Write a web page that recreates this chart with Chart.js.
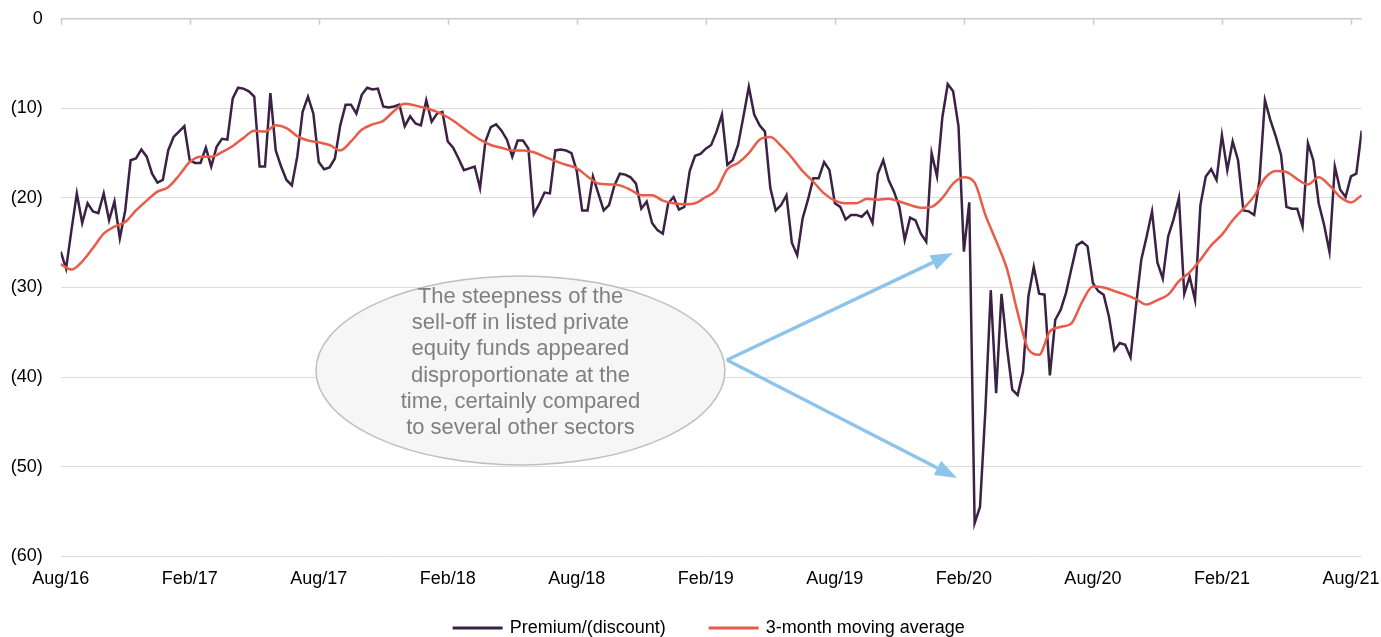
<!DOCTYPE html>
<html>
<head>
<meta charset="utf-8">
<title>Premium/(discount)</title>
<script src="https://cdn.jsdelivr.net/npm/chart.js@4.4.0/dist/chart.umd.min.js"></script>
<style>
  html, body { margin: 0; padding: 0; background: #fff; }
  #wrap { width: 1381px; height: 637px; position: relative; }
</style>
</head>
<body>
<div id="wrap"><canvas id="chart"></canvas></div>
<script>
// x positions are months since Aug/16
const TICK_LABELS = ['Aug/16', 'Feb/17', 'Aug/17', 'Feb/18', 'Aug/18', 'Feb/19',
                     'Aug/19', 'Feb/20', 'Aug/20', 'Feb/21', 'Aug/21'];
const TICK_STEP = 6;
const X_MAX = 60.5;

// premium/(discount), one reading per quarter month
const PREMIUM_STEP = 0.25;
const PREMIUM = [
  -26.0, -27.9, -23.6, -19.5, -22.8, -20.6, -21.5, -21.7, -19.5, -22.5,
  -20.4, -24.5, -21.4, -15.8, -15.6, -14.6, -15.4, -17.3, -18.3, -18.0,
  -14.7, -13.2, -12.6, -12.0, -15.8, -16.1, -16.1, -14.4, -16.5, -14.3,
  -13.4, -13.5, -8.9, -7.7, -7.8, -8.1, -8.7, -16.5, -16.5, -8.3,
  -14.7, -16.5, -18.0, -18.6, -15.4, -10.4, -8.7, -10.6, -16.0, -16.8,
  -16.6, -15.6, -11.9, -9.6, -9.6, -10.6, -8.5, -7.7, -7.9, -7.8,
  -9.8, -9.9, -9.8, -9.6, -12.0, -10.9, -11.7, -11.9, -9.1, -11.5,
  -10.6, -10.4, -13.7, -14.4, -15.6, -16.9, -16.7, -16.5, -18.9, -13.7,
  -12.1, -11.8, -12.5, -13.5, -15.4, -13.6, -13.6, -14.5, -21.8, -20.7,
  -19.4, -19.5, -14.7, -14.6, -14.7, -15.0, -17.0, -21.4, -21.4, -17.6,
  -19.5, -21.4, -20.8, -18.6, -17.3, -17.4, -17.7, -18.4, -21.2, -20.4,
  -22.8, -23.6, -24.0, -20.6, -19.9, -21.3, -21.0, -17.0, -15.3, -15.1,
  -14.5, -14.1, -12.6, -10.7, -16.3, -15.8, -14.1, -10.9, -7.6, -10.7,
  -11.9, -12.6, -18.9, -21.4, -20.8, -19.7, -25.0, -26.4, -22.3, -20.2,
  -17.8, -17.8, -16.0, -16.9, -20.6, -21.0, -22.4, -21.9, -21.9, -22.1,
  -21.5, -22.8, -17.3, -15.8, -18.0, -19.3, -21.0, -24.7, -22.2, -22.5,
  -24.0, -24.9, -15.0, -17.6, -11.0, -7.3, -8.1, -12.0, -26.0, -20.5,
  -56.3, -54.5, -43.7, -30.3, -41.8, -30.7, -36.6, -41.4, -42.0, -39.4,
  -31.0, -27.7, -30.7, -30.8, -39.8, -33.6, -32.5, -30.6, -27.9, -25.3,
  -24.9, -25.4, -29.5, -30.4, -30.8, -33.3, -37.0, -36.2, -36.4, -37.8,
  -32.1, -26.9, -24.3, -21.5, -27.2, -29.0, -24.3, -22.4, -20.0, -30.7,
  -28.8, -31.4, -20.8, -17.6, -16.8, -18.0, -13.0, -16.9, -13.7, -15.8,
  -21.4, -21.5, -21.9, -18.0, -9.1, -11.3, -13.1, -15.2, -21.0, -21.2,
  -21.2, -23.2, -13.9, -15.8, -20.6, -23.0, -26.0, -16.5, -19.1, -19.9,
  -17.6, -17.3, -12.5
];

// 3-month moving average, one reading per half month
const AVG_STEP = 0.5;
const MOVING_AVG = [
  -27.4, -28.0, -27.1, -25.6, -24.0, -23.2, -22.7, -21.4, -20.3, -19.3,
  -18.8, -17.5, -16.0, -15.4, -15.4, -14.9, -14.2, -13.3, -12.5, -12.6,
  -11.9, -12.2, -13.1, -13.6, -13.8, -14.1, -14.7, -13.7, -12.4, -11.8,
  -11.4, -10.3, -9.5, -9.7, -10.0, -10.4, -11.0, -11.8, -12.7, -13.5,
  -14.1, -14.4, -14.7, -14.7, -14.9, -15.4, -15.9, -16.3, -16.7, -17.6,
  -18.4, -18.5, -18.6, -19.1, -19.7, -19.7, -20.3, -20.6, -20.7, -20.6,
  -19.9, -19.1, -16.8, -16.1, -15.0, -13.5, -13.2, -14.2, -15.5, -17.0,
  -18.2, -19.5, -20.3, -20.6, -20.6, -20.1, -20.2, -20.1, -20.4, -20.8,
  -21.1, -21.0, -20.0, -18.4, -17.7, -18.3, -21.9, -24.8, -27.9, -32.8,
  -36.9, -37.5, -34.9, -34.4, -34.0, -31.6, -29.9, -30.0, -30.4, -30.8,
  -31.3, -31.9, -31.4, -30.8, -29.3, -28.3, -26.9, -25.3, -24.1, -22.5,
  -21.2, -19.8, -17.8, -17.0, -17.1, -17.9, -18.5, -17.7, -18.6, -19.9,
  -20.5, -19.7
];

// callout, placed in axis units
const NOTE_LINES = ['The steepness of the', 'sell-off in listed private', 'equity funds appeared',
                    'disproportionate at the', 'time, certainly compared', 'to several other sectors'];
const NOTE_CENTER = { x: 21.38, y: -39.26 };
const NOTE_RADIUS = { x: 9.51, y: 10.55 };
const ARROW_FROM = { x: 30.98, y: -38.09 };
const ARROW_TIPS = [{ x: 41.49, y: -26.15 }, { x: 41.68, y: -51.26 }];

const DARK = '#3b2144';
const RED = '#e95c49';
const FONT = "'Liberation Sans', Arial, sans-serif";

const toPoints = (values, step) => values.map((v, i) => ({ x: i * step, y: v }));

function arrow(ctx, x0, y0, x1, y1) {
  const ang = Math.atan2(y1 - y0, x1 - x0);
  const head = 22, half = 8;
  const bx = x1 - head * Math.cos(ang), by = y1 - head * Math.sin(ang);
  ctx.beginPath();
  ctx.moveTo(x0, y0);
  ctx.lineTo(bx, by);
  ctx.stroke();
  ctx.beginPath();
  ctx.moveTo(x1, y1);
  ctx.lineTo(bx + half * Math.sin(ang), by - half * Math.cos(ang));
  ctx.lineTo(bx - half * Math.sin(ang), by + half * Math.cos(ang));
  ctx.closePath();
  ctx.fill();
}

const overlay = {
  id: 'overlay',
  beforeDatasetsDraw(chart) {
    // axis line at 0 with short ticks hanging from it
    const { ctx, chartArea, scales: { x, y } } = chart;
    const y0 = y.getPixelForValue(0);
    ctx.save();
    ctx.strokeStyle = '#cbcbcb';
    ctx.lineWidth = 1.5;
    ctx.beginPath();
    ctx.moveTo(chartArea.left, y0);
    ctx.lineTo(chartArea.right, y0);
    x.ticks.forEach(t => {
      const px = Math.round(x.getPixelForValue(t.value)) + 0.5;
      ctx.moveTo(px, y0);
      ctx.lineTo(px, y0 + 6);
    });
    ctx.stroke();
    ctx.restore();
  },
  afterDraw(chart) {
    const { ctx, scales: { x, y } } = chart;
    ctx.save();

    // arrows
    const fx = x.getPixelForValue(ARROW_FROM.x), fy = y.getPixelForValue(ARROW_FROM.y);
    ctx.strokeStyle = '#8cc5e9';
    ctx.fillStyle = '#8cc5e9';
    ctx.lineWidth = 3.5;
    ARROW_TIPS.forEach(t => arrow(ctx, fx, fy, x.getPixelForValue(t.x), y.getPixelForValue(t.y)));

    // ellipse with the note
    const cx = x.getPixelForValue(NOTE_CENTER.x), cy = y.getPixelForValue(NOTE_CENTER.y);
    const rx = x.getPixelForValue(NOTE_CENTER.x + NOTE_RADIUS.x) - cx;
    const ry = y.getPixelForValue(NOTE_CENTER.y - NOTE_RADIUS.y) - cy;
    ctx.beginPath();
    ctx.ellipse(cx, cy, rx, ry, 0, 0, Math.PI * 2);
    ctx.fillStyle = '#f6f6f6';
    ctx.fill();
    ctx.strokeStyle = '#bfbfbf';
    ctx.lineWidth = 1.5;
    ctx.stroke();

    ctx.fillStyle = '#808080';
    ctx.font = '22px ' + FONT;
    ctx.textAlign = 'center';
    ctx.textBaseline = 'middle';
    const lh = 26.2;
    NOTE_LINES.forEach((line, i) => {
      ctx.fillText(line, cx, cy - 8 + (i - (NOTE_LINES.length - 1) / 2) * lh);
    });

    // legend
    ctx.font = '18px ' + FONT;
    ctx.textAlign = 'left';
    const sample = 50, gap = 7, spacing = 43;
    const items = chart.data.datasets.map(d => ({ text: d.label, color: d.borderColor, w: ctx.measureText(d.label).width }));
    const total = items.reduce((s, it) => s + sample + gap + it.w, 0) + spacing * (items.length - 1);
    let lx = 708.7 - total / 2;
    const ly = 628;
    items.forEach(it => {
      ctx.fillStyle = it.color;
      ctx.fillRect(lx, ly - 1.5, sample, 3);
      ctx.fillStyle = '#000';
      ctx.fillText(it.text, lx + sample + gap, ly);
      lx += sample + gap + it.w + spacing;
    });
    ctx.restore();
  }
};

new Chart(document.getElementById('chart'), {
  type: 'line',
  data: {
    datasets: [
      {
        label: 'Premium/(discount)',
        data: toPoints(PREMIUM, PREMIUM_STEP),
        borderColor: DARK,
        backgroundColor: DARK,
        borderWidth: 2.5,
        pointRadius: 0,
        tension: 0,
        order: 2
      },
      {
        label: '3-month moving average',
        data: toPoints(MOVING_AVG, AVG_STEP),
        borderColor: RED,
        backgroundColor: RED,
        borderWidth: 2.5,
        pointRadius: 0,
        cubicInterpolationMode: 'monotone',
        order: 1
      }
    ]
  },
  options: {
    responsive: true,
    maintainAspectRatio: false,
    animation: false,
    layout: { autoPadding: false, padding: { top: 18.7, right: 19.3, bottom: 0, left: 0 } },
    plugins: {
      legend: { display: false },
      tooltip: { enabled: false }
    },
    scales: {
      x: {
        type: 'linear',
        min: 0,
        max: X_MAX,
        grid: { display: false, drawTicks: false },
        border: { display: false },
        ticks: {
          stepSize: TICK_STEP,
          includeBounds: false,
          autoSkip: false,
          maxRotation: 0,
          padding: 12,
          color: '#000',
          font: { family: FONT, size: 18 },
          callback: v => TICK_LABELS[Math.round(v / TICK_STEP)]
        },
        afterFit: s => { s.height = 80.7; s.paddingLeft = 0; s.paddingRight = 0; }
      },
      y: {
        min: -60,
        max: 0,
        grid: {
          color: c => c.tick.value === 0 ? 'rgba(0,0,0,0)' : '#dcdcdc',
          lineWidth: 1,
          drawTicks: false
        },
        border: { display: false },
        ticks: {
          stepSize: 10,
          padding: 18,
          color: '#000',
          font: { family: FONT, size: 18 },
          callback: v => v === 0 ? '0' : '(' + Math.abs(v) + ')'
        },
        afterFit: s => { s.width = 60.7; s.paddingTop = 0; s.paddingBottom = 0; }
      }
    }
  },
  plugins: [overlay]
});
</script>
</body>
</html>
